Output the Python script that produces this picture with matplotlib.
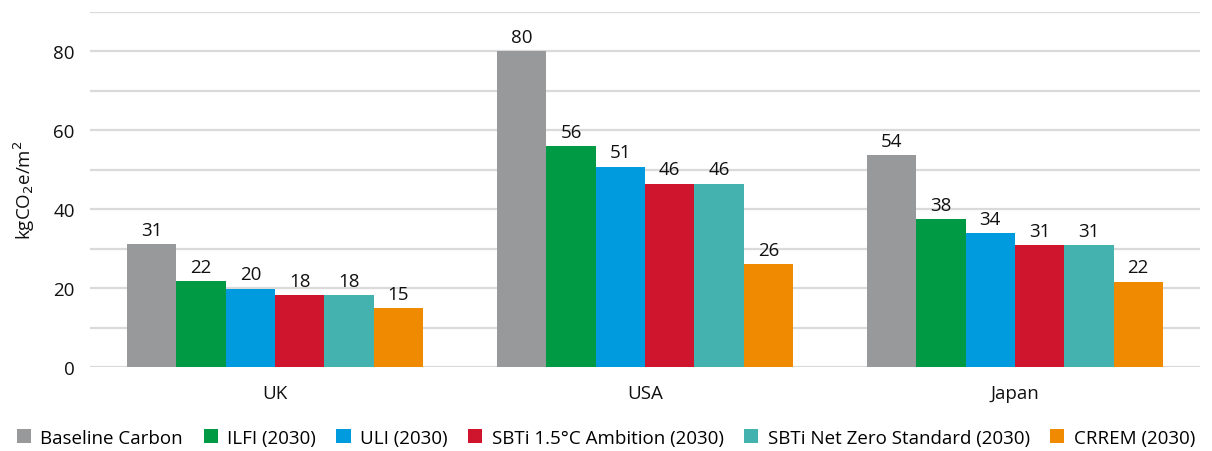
import matplotlib
matplotlib.use("Agg")
import matplotlib.pyplot as plt
import numpy as np

plt.rcParams['font.family'] = ['Open Sans', 'DejaVu Sans']

categories = ["UK", "USA", "Japan"]
series = ["Baseline Carbon", "ILFI (2030)", "ULI (2030)", "SBTi 1.5°C Ambition (2030)",
          "SBTi Net Zero Standard (2030)", "CRREM (2030)"]
baseline = [31.2, 80.0, 53.7]
ilfi = [21.8, 55.9, 37.5]
uli = [19.9, 50.8, 33.9]
sbti_15 = [18.2, 46.4, 30.9]
sbti_nz = [18.2, 46.4, 30.9]
crrem = [15.0, 26.1, 21.6]
labels = [[31, 80, 54], [22, 56, 38], [20, 51, 34], [18, 46, 31], [18, 46, 31], [15, 26, 22]]
colors = ["#98999b", "#009a44", "#009ade", "#cf152d", "#44b3af", "#f08a00"]

data = [baseline, ilfi, uli, sbti_15, sbti_nz, crrem]

fig = plt.figure(figsize=(12.12, 4.52), dpi=100)
ax = fig.add_axes([0.0743, 0.185, 0.9157, 0.787])

x = np.arange(len(categories))
w = 0.8 / 6
fs = 13.5
tc = '#111111'
for i, (vals, c, name) in enumerate(zip(data, colors, series)):
    pos = x - 0.4 + w * (i + 0.5)
    bars = ax.bar(pos, vals, width=w, color=c, label=name, zorder=3)
    for b, lab in zip(bars, labels[i]):
        ax.text(b.get_x() + b.get_width() / 2, b.get_height() + 1.4, str(lab),
                ha='center', va='bottom', fontsize=fs, color=tc)

ax.set_xlim(-0.5, 2.5)
ax.set_ylim(0, 90)
ax.set_yticks(np.arange(0, 91, 10))
ax.set_yticklabels([str(v) if v % 20 == 0 and v <= 80 else "" for v in range(0, 91, 10)])
ax.yaxis.grid(True, color='#dadada', linewidth=1.6, zorder=0)
ax.set_axisbelow(True)
ax.tick_params(axis='both', length=0, labelsize=fs, colors=tc)
ax.tick_params(axis='y', pad=11)
ax.tick_params(axis='x', pad=12)
ax.set_xticks(x)
ax.set_xticklabels(categories)
for s in ax.spines.values():
    s.set_visible(False)
ax.set_ylabel("kgCO$_2$e/m$^2$", fontsize=fs, color=tc, labelpad=12)

fig.legend(loc='lower center', bbox_to_anchor=(0.5, -0.028), ncol=6, frameon=False,
           fontsize=fs, handlelength=0.75, handleheight=0.75, handletextpad=0.5,
           columnspacing=1.1)

fig.savefig("out.png", dpi=100)
